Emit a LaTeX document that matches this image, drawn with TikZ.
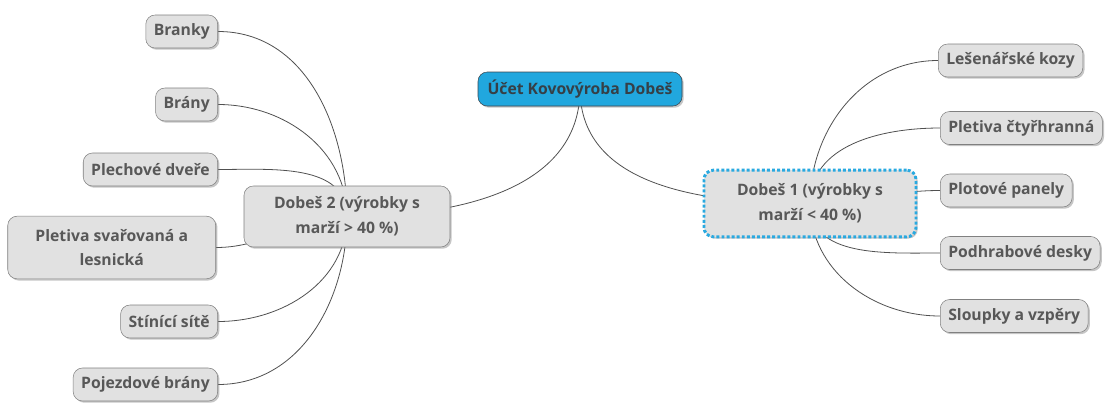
\documentclass[tikz,border=0pt]{standalone}
\usepackage{fontspec}
\setmainfont{Open Sans}
\usetikzlibrary{positioning, shadows, backgrounds}
\definecolor{leafgray}{RGB}{225,225,225}
\definecolor{framegray}{RGB}{128,128,128}
\definecolor{textgray}{RGB}{88,88,88}
\definecolor{rootblue}{RGB}{33,167,222}
\definecolor{rootframe}{RGB}{60,70,78}
\definecolor{selblue}{RGB}{41,169,224}
\definecolor{edgegray}{RGB}{80,80,80}

\tikzset{
  topic/.style={draw=framegray, fill=leafgray, rounded corners=7pt, text=textgray,
    font=\bfseries\fontsize{11.8}{18.5}\selectfont, inner xsep=6pt, inner ysep=3pt,
    minimum height=24.75pt, align=center,
    drop shadow={shadow xshift=1.3pt, shadow yshift=-1.3pt, opacity=0.45}},
  roottopic/.style={topic, fill=rootblue, draw=rootframe, text=rootframe!90!black},
  seltopic/.style={topic, draw=selblue, line width=2.2pt, dash pattern=on 2.2pt off 1.6pt},
  branch/.style={edgegray, line width=0.6pt}
}

\begin{document}
\begin{tikzpicture}[x=0.75pt, y=0.75pt]
    \useasboundingbox (0,0) rectangle (1105,405);

    % main topics
    \node[roottopic, minimum width=153pt, minimum height=25.5pt] (root) at (580,316) {Účet Kovovýroba Dobeš};
    \node[seltopic, minimum width=159pt, minimum height=50pt] (dobes1) at (810,201.5) {Dobeš 1 (výrobky s\\ marží < 40 \%)};
    \node[topic, minimum width=154.5pt, minimum height=45.75pt] (dobes2) at (347,188.5) {Dobeš 2 (výrobky s\\ marží > 40 \%)};

    % left side
    \node[topic, anchor=east] (branky) at (218,373.5) {Branky};
    \node[topic, anchor=east] (brany) at (218,300.5) {Brány};
    \node[topic, anchor=east] (dvere) at (218,235.5) {Plechové dveře};
    \node[topic, anchor=east, minimum width=156pt, minimum height=47pt] (svarovana) at (216,157.5) {Pletiva svařovaná a\\ lesnická};
    \node[topic, anchor=east] (site) at (218,83.5) {Stínící sítě};
    \node[topic, anchor=east] (pojezd) at (218,20.5) {Pojezdové brány};

    % right side
    \node[topic, anchor=west] (kozy) at (938,344.5) {Lešenářské kozy};
    \node[topic, anchor=west] (ctyrhranna) at (940,277) {Pletiva čtyřhranná};
    \node[topic, anchor=west] (panely) at (940,214.5) {Plotové panely};
    \node[topic, anchor=west] (desky) at (940,152) {Podhrabové desky};
    \node[topic, anchor=west] (sloupky) at (940,89) {Sloupky a vzpěry};

    \begin{pgfonlayer}{background}
        \draw[branch] (root.center) to[out=-90, in=0] (dobes2.center);
        \draw[branch] (root.center) to[out=-90, in=180] (dobes1.center);

        \foreach \leaf in {branky, brany, dvere}
            \draw[branch] (\leaf.east) to[out=0, in=90] (dobes2.center);
        \draw[branch] (svarovana.east) to[out=0, in=180] (dobes2.center);
        \foreach \leaf in {site, pojezd}
            \draw[branch] (\leaf.east) to[out=0, in=-90] (dobes2.center);

        \foreach \leaf in {kozy, ctyrhranna}
            \draw[branch] (\leaf.west) to[out=180, in=90] (dobes1.center);
        \draw[branch] (panely.west) to[out=180, in=0] (dobes1.center);
        \foreach \leaf in {desky, sloupky}
            \draw[branch] (\leaf.west) to[out=180, in=-90] (dobes1.center);
    \end{pgfonlayer}
\end{tikzpicture}
\end{document}
